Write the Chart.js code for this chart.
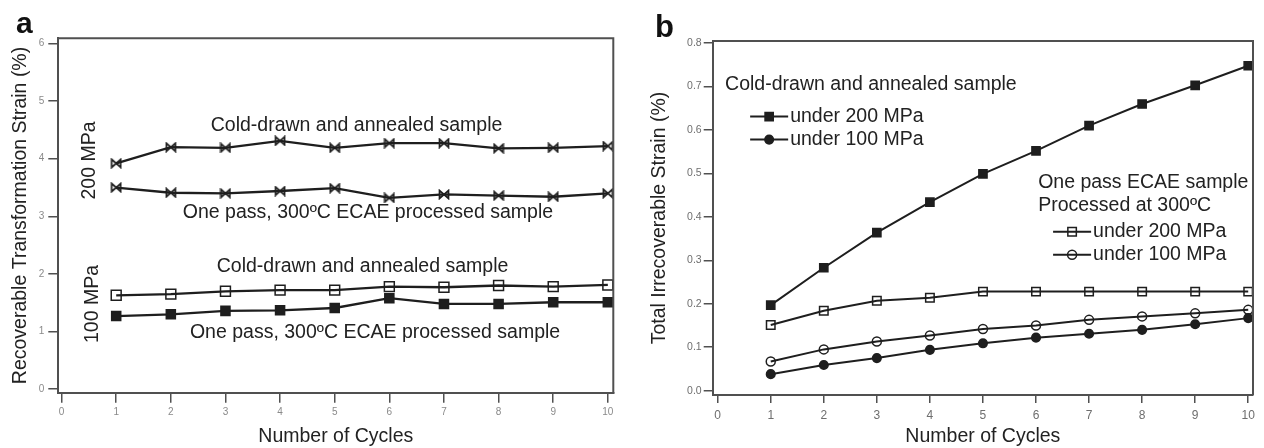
<!DOCTYPE html>
<html><head><meta charset="utf-8">
<script src="https://cdn.jsdelivr.net/npm/chart.js@4.4.1/dist/chart.umd.min.js"></script>
<style>
html,body{margin:0;padding:0;background:#fff;}
#wrap{position:relative;width:1264px;height:448px;overflow:hidden;background:#fff;}
.pane{position:absolute;top:0;width:632px;height:448px;}
</style></head><body>
<div id="wrap">
  <div class="pane" style="left:0"><canvas id="ca" width="632" height="448"></canvas></div>
  <div class="pane" style="left:632px"><canvas id="cb" width="632" height="448"></canvas></div>
</div>
<script>
// ---------------- data ----------------
const cycles = [1, 2, 3, 4, 5, 6, 7, 8, 9, 10];

// Panel a: recoverable transformation strain (%)
const aCold200 = [3.92, 4.20, 4.19, 4.31, 4.19, 4.27, 4.27, 4.18, 4.19, 4.22];
const aEcae200 = [3.50, 3.41, 3.40, 3.44, 3.49, 3.32, 3.38, 3.36, 3.34, 3.40];
const aCold100 = [1.63, 1.65, 1.70, 1.72, 1.72, 1.78, 1.77, 1.80, 1.78, 1.81];
const aEcae100 = [1.27, 1.30, 1.36, 1.37, 1.41, 1.58, 1.48, 1.48, 1.51, 1.51];
const aXTicks = [0, 1, 2, 3, 4, 5, 6, 7, 8, 9, 10];
const aYTicks = [0, 1, 2, 3, 4, 5, 6];

// Panel b: total irrecoverable strain (%)
const bCold200 = [0.197, 0.283, 0.364, 0.434, 0.499, 0.552, 0.610, 0.660, 0.703, 0.748];
const bCold100 = [0.038, 0.059, 0.075, 0.094, 0.109, 0.122, 0.131, 0.140, 0.153, 0.167];
const bEcae200 = [0.151, 0.184, 0.207, 0.214, 0.228, 0.228, 0.228, 0.228, 0.228, 0.228];
const bEcae100 = [0.067, 0.095, 0.113, 0.127, 0.142, 0.150, 0.163, 0.171, 0.178, 0.186];
const bXTicks = [0, 1, 2, 3, 4, 5, 6, 7, 8, 9, 10];
const bYTicks = [0.0, 0.1, 0.2, 0.3, 0.4, 0.5, 0.6, 0.7, 0.8];

// ---------------- styling / helpers ----------------
const FONT = '"Liberation Sans", Arial, Helvetica, sans-serif';
Chart.defaults.font.family = FONT;
const INK = '#1e1e1e';
const AXIS = '#505050';

function pts(ys) { return cycles.map((x, i) => ({ x: x, y: ys[i] })); }

function bowtie() {
  const c = document.createElement('canvas');
  c.width = 12; c.height = 11;
  const g = c.getContext('2d');
  g.strokeStyle = INK; g.lineWidth = 1.7;
  g.beginPath();
  g.moveTo(1.5, 1.5); g.lineTo(1.5, 9.5); g.lineTo(10.5, 1.5); g.lineTo(10.5, 9.5); g.closePath();
  g.stroke();
  return c;
}
const BOW = bowtie();

function series(ys, style, radius, filled, width) {
  return {
    data: pts(ys), borderColor: INK, borderWidth: width, tension: 0, fill: false,
    pointStyle: style, pointRadius: radius, pointHoverRadius: radius,
    pointBorderColor: INK, pointBorderWidth: 1.5,
    pointBackgroundColor: filled ? INK : 'rgba(255,255,255,0)', clip: false
  };
}

const framePlugin = {
  id: 'frame',
  afterDraw(chart) {
    const a = chart.chartArea, ctx = chart.ctx;
    ctx.save();
    ctx.strokeStyle = AXIS; ctx.lineWidth = 2;
    ctx.beginPath();
    ctx.moveTo(a.left, a.top); ctx.lineTo(a.right, a.top); ctx.lineTo(a.right, a.bottom);
    ctx.stroke();
    ctx.restore();
  }
};

const notesPlugin = {
  id: 'notes',
  afterDraw(chart, args, opts) {
    const ctx = chart.ctx, xs = chart.scales.x, ys = chart.scales.y;
    ctx.save();
    ctx.fillStyle = '#222';
    ctx.textBaseline = 'middle';
    (opts.texts || []).forEach(t => {
      const px = xs.getPixelForValue(t.x), py = ys.getPixelForValue(t.y);
      ctx.font = (t.bold ? 'bold ' : '') + t.size + 'px ' + FONT;
      ctx.save();
      ctx.translate(px, py);
      if (t.vertical) { ctx.rotate(-Math.PI / 2); ctx.textAlign = 'center'; }
      else { ctx.textAlign = 'left'; }
      ctx.fillText(t.text, 0, 0);
      ctx.restore();
    });
    (opts.legend || []).forEach(l => {
      const ds = chart.data.datasets[l.ds];
      const px = xs.getPixelForValue(l.x), py = ys.getPixelForValue(l.y);
      ctx.strokeStyle = ds.borderColor; ctx.lineWidth = 2;
      ctx.beginPath(); ctx.moveTo(px - 19, py); ctx.lineTo(px + 19, py); ctx.stroke();
      ctx.fillStyle = ds.pointBackgroundColor; ctx.strokeStyle = ds.pointBorderColor;
      ctx.lineWidth = ds.pointBorderWidth;
      Chart.helpers.drawPoint(ctx, { pointStyle: ds.pointStyle, radius: ds.pointRadius, borderWidth: ds.pointBorderWidth, rotation: 0 }, px, py);
      ctx.fillStyle = '#222';
      ctx.font = '19.5px ' + FONT;
      ctx.textAlign = 'left';
      ctx.fillText(l.text, px + 21, py);
    });
    (opts.corner || []).forEach(c => {
      ctx.font = 'bold ' + c.size + 'px ' + FONT;
      ctx.textAlign = 'left'; ctx.textBaseline = 'alphabetic';
      ctx.fillStyle = '#111';
      ctx.fillText(c.text, c.px, c.py);
    });
    ctx.restore();
  }
};

function axis(min, max, tickArr, size, tickLen, tickPad, tickFont, tickColor, title, titlePad, fmt) {
  return {
    type: 'linear', min: min, max: max,
    afterBuildTicks(s) { s.ticks = tickArr.map(v => ({ value: v })); },
    afterFit(s) { if (s.isHorizontal()) s.height = size; else s.width = size; },
    grid: { drawOnChartArea: false, drawTicks: true, tickLength: tickLen, color: AXIS, lineWidth: 1.5 },
    border: { display: true, color: AXIS, width: 2 },
    ticks: { color: tickColor, font: { size: tickFont }, padding: tickPad, maxRotation: 0, autoSkip: false,
             callback: fmt },
    title: { display: true, text: title, color: '#222', font: { size: 19.5 }, padding: titlePad }
  };
}

// ---------------- panel a ----------------
new Chart(document.getElementById('ca'), {
  type: 'line',
  data: { datasets: [
    series(aCold200, BOW, 5, false, 2.3),
    series(aEcae200, BOW, 5, false, 2.3),
    series(aCold100, 'rect', 7, false, 2.3),
    series(aEcae100, 'rect', 6.4, true, 2.3)
  ] },
  options: {
    responsive: false, animation: false, devicePixelRatio: 1,
    layout: { padding: { left: 0, top: 38.3, right: 18.7, bottom: 0 } },
    plugins: {
      legend: { display: false }, tooltip: { enabled: false },
      notes: {
        texts: [
          { text: 'Cold-drawn and annealed sample', x: 2.73, y: 4.58, size: 19.5 },
          { text: 'One pass, 300ºC ECAE processed sample', x: 2.22, y: 3.06, size: 19.5 },
          { text: 'Cold-drawn and annealed sample', x: 2.84, y: 2.12, size: 19.5 },
          { text: 'One pass, 300ºC ECAE processed sample', x: 2.35, y: 0.99, size: 19.5 },
          { text: '200 MPa', x: 0.52, y: 3.97, size: 19.5, vertical: true },
          { text: '100 MPa', x: 0.57, y: 1.48, size: 19.5, vertical: true }
        ],
        corner: [ { text: 'a', px: 16, py: 33, size: 30 } ]
      }
    },
    scales: {
      x: axis(-0.06, 10.1, aXTicks, 55.3, 10, 4, 10, '#8a8a8a', 'Number of Cycles', { top: 0, bottom: 0 }, v => String(v)),
      y: axis(-0.06, 6.09, aYTicks, 58.3, 10, 4, 10, '#8a8a8a', 'Recoverable Transformation Strain (%)', { top: 8.5, bottom: 0 }, v => String(v))
    }
  },
  plugins: [framePlugin, notesPlugin]
});

// ---------------- panel b ----------------
new Chart(document.getElementById('cb'), {
  type: 'line',
  data: { datasets: [
    series(bCold200, 'rect', 5.8, true, 2),
    series(bCold100, 'circle', 4.3, true, 2),
    series(bEcae200, 'rect', 6, false, 2),
    series(bEcae100, 'circle', 4.5, false, 2)
  ] },
  options: {
    responsive: false, animation: false, devicePixelRatio: 1,
    layout: { padding: { left: 0, top: 41, right: 11, bottom: 0 } },
    plugins: {
      legend: { display: false }, tooltip: { enabled: false },
      notes: {
        texts: [
          { text: 'Cold-drawn and annealed sample', x: 0.14, y: 0.704, size: 19.5 },
          { text: 'One pass ECAE sample', x: 6.04, y: 0.479, size: 19.5 },
          { text: 'Processed at 300ºC', x: 6.04, y: 0.426, size: 19.5 }
        ],
        legend: [
          { ds: 0, text: 'under 200 MPa', x: 0.97, y: 0.631 },
          { ds: 1, text: 'under 100 MPa', x: 0.97, y: 0.578 },
          { ds: 2, text: 'under 200 MPa', x: 6.68, y: 0.366 },
          { ds: 3, text: 'under 100 MPa', x: 6.68, y: 0.313 }
        ],
        corner: [ { text: 'b', px: 23, py: 37, size: 31 } ]
      }
    },
    scales: {
      x: axis(-0.094, 10.09, bXTicks, 53, 8, 5, 12, '#6e6e6e', 'Number of Cycles', { top: 0, bottom: 0 }, v => String(v)),
      y: axis(-0.01, 0.805, bYTicks, 80.7, 9, 2, 10.5, '#6e6e6e', 'Total Irrecoverable Strain (%)', { top: 16, bottom: 0 }, v => v.toFixed(1))
    }
  },
  plugins: [framePlugin, notesPlugin]
});
</script>
</body></html>
